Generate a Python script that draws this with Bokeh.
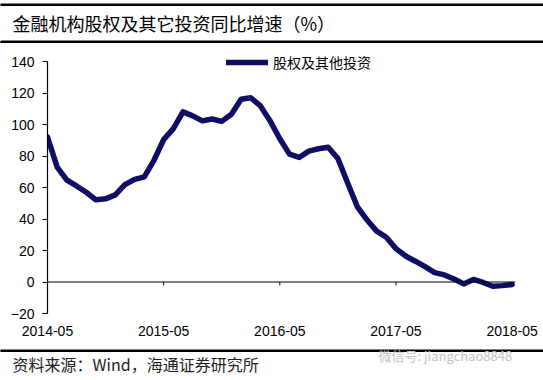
from bokeh.plotting import figure
from bokeh.layouts import column
from bokeh.models import (Range1d, FixedTicker, Span, Legend, LegendItem, ColumnDataSource)
from bokeh.core.properties import value
from bokeh.embed import file_html
from bokeh.resources import INLINE
import pandas as pd

# ---- data ----
months = [d.strftime("%Y-%m") for d in pd.date_range("2014-05-01", "2018-05-01", freq="MS")]
equity_other = [92, 73, 64.7, 61, 57, 52.2, 52.8, 55.3, 61.8, 65.2, 66.8, 77.3,
                90.4, 97.4, 108, 105.5, 102.3, 103.5, 102, 106.5, 116, 117, 111.8, 102.3,
                91, 81.2, 79.1, 83.1, 84.6, 85.6, 78.4, 63, 47.9, 39.5, 32.3, 28.4,
                21.2, 16.5, 13.2, 9.7, 6, 4.5, 1.9, -1.2, 1.6, -0.3, -2.7, -2.3, -1.6]
x_tick_labels = ["2014-05", "2015-05", "2016-05", "2017-05", "2018-05"]
y_ticks = [-20, 0, 20, 40, 60, 80, 100, 120, 140]
series_name = "股权及其他投资"
title_text = "金融机构股权及其它投资同比增速（%）"
source_text = "资料来源：Wind，海通证券研究所"
watermark_text = "微信号: jiangchao8848"

idx = list(range(len(months)))
tick_idx = [months.index(m) for m in x_tick_labels]

W = 543
TOP_H, MAIN_H, BOT_H = 43, 302, 35
LINE_COLOR = "#0e0e62"
NUM_FONT = "Liberation Sans"
CJK_FONT = "Noto Sans CJK SC"


def blank(h):
    f = figure(width=W, height=h, output_backend="svg", toolbar_location=None,
               x_range=Range1d(0, W), y_range=Range1d(h, 0),
               min_border_left=0, min_border_right=0, min_border_top=0, min_border_bottom=0,
               x_axis_type=None, y_axis_type=None, frame_align=False)
    f.outline_line_color = None
    f.xgrid.grid_line_color = None
    f.ygrid.grid_line_color = None
    return f


# ---- title strip ----
top = blank(TOP_H)
top.quad(left=[0, 0], right=[W, W], top=[3.5, 40.5], bottom=[5, 42.5], color="black")
top.text(x=[12], y=[22], text=[title_text], text_font=value(CJK_FONT),
         text_font_size="18px", text_color="black", text_baseline="middle", text_align="left")

# ---- main chart ----
p = figure(width=W, height=MAIN_H, output_backend="svg", toolbar_location=None,
           x_range=Range1d(0, 48.35), y_range=Range1d(-20, 147),
           min_border_left=47, min_border_right=28, min_border_top=7, min_border_bottom=32,
           frame_align=False)
p.outline_line_color = None
p.xgrid.grid_line_color = None
p.ygrid.grid_line_color = None

ya = p.yaxis[0]
ya.ticker = FixedTicker(ticks=y_ticks)
ya.bounds = (y_ticks[0], y_ticks[-1])
ya.axis_line_color = "black"
ya.axis_line_width = 1.2
ya.major_tick_line_color = "black"
ya.major_tick_out = 5
ya.major_tick_in = 0
ya.minor_tick_line_color = None
ya.major_label_standoff = 8
ya.major_label_text_font = NUM_FONT
ya.major_label_text_font_size = "14px"
ya.major_label_text_color = "black"

xa = p.xaxis[0]
xa.ticker = FixedTicker(ticks=tick_idx)
xa.major_label_overrides = {i: months[i] for i in tick_idx}
xa.axis_line_color = None
xa.major_tick_line_color = None
xa.minor_tick_line_color = None
xa.major_label_standoff = 6
xa.major_label_text_font = NUM_FONT
xa.major_label_text_font_size = "14px"
xa.major_label_text_color = "black"

p.add_layout(Span(location=0, dimension="width", line_color="black", line_width=1.2))
tick_src = ColumnDataSource(dict(x=tick_idx, y0=[0] * len(tick_idx), y1=[-2.2] * len(tick_idx)))
p.segment(x0="x", y0="y0", x1="x", y1="y1", source=tick_src, line_color="black", line_width=1)

src = ColumnDataSource(dict(x=idx, y=equity_other))
r = p.line("x", "y", source=src, line_color=LINE_COLOR, line_width=5.5,
           line_join="round", line_cap="round")

legend = Legend(items=[LegendItem(label=series_name, renderers=[r])],
                location=(179, 241), orientation="horizontal",
                glyph_width=42, glyph_height=12, label_standoff=5, padding=0, margin=0,
                border_line_color=None, background_fill_alpha=0,
                label_text_font=CJK_FONT, label_text_font_size="14px", label_text_color="black")
p.add_layout(legend, "center")

# ---- source strip ----
bot = blank(BOT_H)
bot.quad(left=[0], right=[W], top=[4.5], bottom=[6], color="black")
bot.text(x=[378], y=[10], text=[watermark_text], text_font=value(CJK_FONT),
         text_font_size="13px", text_color="#c4c4c4", text_baseline="middle", text_align="left")
bot.text(x=[12], y=[18], text=[source_text], text_font=value(CJK_FONT),
         text_font_size="16px", text_color="#222222", text_baseline="middle", text_align="left")

layout = column(top, p, bot, spacing=0)
open("out.html", "w").write(file_html(layout, INLINE))
